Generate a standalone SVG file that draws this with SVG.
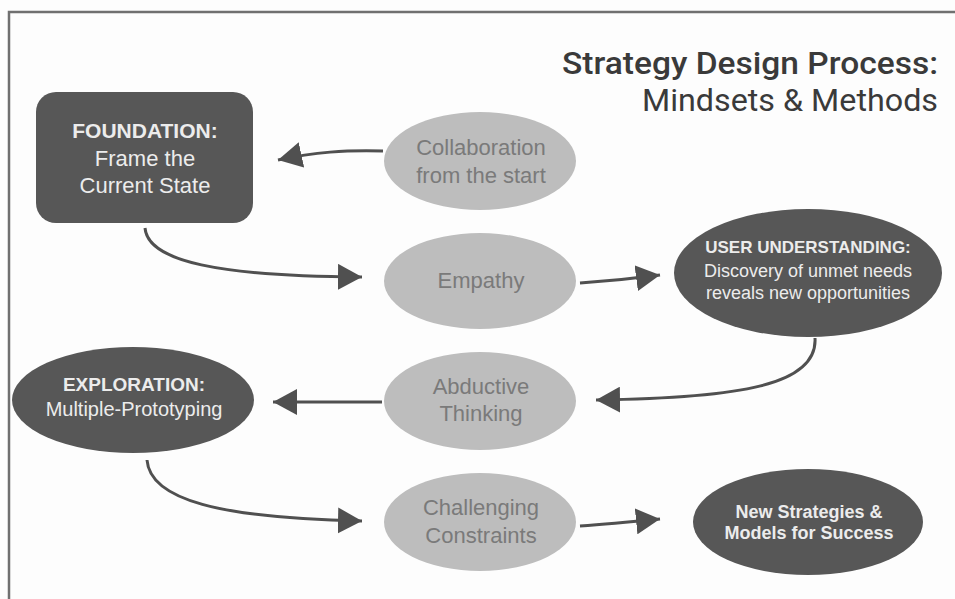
<svg xmlns="http://www.w3.org/2000/svg" width="955" height="599" viewBox="0 0 955 599">
<defs>
<style>
.bg{fill:#fdfdfd}
.frame{stroke:#707070;stroke-width:2.5;fill:none}
.dark{fill:#575757}
.light{fill:#bdbdbd}
.dt{fill:#ececec;font-family:"Liberation Sans",Arial,sans-serif;text-anchor:middle}
.lt{fill:#7a7a7a;font-family:"Liberation Sans",Arial,sans-serif;text-anchor:middle;font-size:22px}
.b{font-weight:bold}
.title{fill:#3a3a3a;font-family:Roboto,"Liberation Sans",Arial,sans-serif;text-anchor:end}
.conn{fill:none;stroke:#505050;stroke-width:3}
</style>
<marker id="ah" markerUnits="userSpaceOnUse" markerWidth="26" markerHeight="26" refX="24" refY="13" orient="auto">
<path d="M0,0 L24,13 L0,26 z" fill="#505050"/>
</marker>
</defs>
<rect class="bg" x="0" y="0" width="955" height="599"/>
<path class="frame" d="M9,599 L9,12 L955,12"/>
<g id="title">
<text class="title" x="938" y="74" font-size="31" font-weight="500" textLength="376" lengthAdjust="spacingAndGlyphs">Strategy Design Process:</text>
<text class="title" x="938" y="111" font-size="31" textLength="296" lengthAdjust="spacingAndGlyphs">Mindsets &amp; Methods</text>
</g>
<g id="connectors">
<path class="conn" marker-end="url(#ah)" d="M383,151 C345,150 315,152 278,160"/>
<path class="conn" marker-end="url(#ah)" d="M145,228 C148,262 220,276 362,277"/>
<path class="conn" marker-end="url(#ah)" d="M580,283 C610,281 630,279 660,275"/>
<path class="conn" marker-end="url(#ah)" d="M815,338 C818,385 740,398 596,400"/>
<path class="conn" marker-end="url(#ah)" d="M382,402 L273,402"/>
<path class="conn" marker-end="url(#ah)" d="M147,460 C150,500 220,518 362,521"/>
<path class="conn" marker-end="url(#ah)" d="M580,526 C610,524 630,522 660,519"/>
</g>
<g id="foundation">
<rect class="dark" x="36" y="92" width="217" height="131" rx="20"/>
<text class="dt b" x="145" y="138" font-size="21">FOUNDATION:</text>
<text class="dt" x="145" y="166" font-size="22">Frame the</text>
<text class="dt" x="145" y="193" font-size="22">Current State</text>
</g>
<g id="collaboration">
<ellipse class="light" cx="480" cy="161" rx="96" ry="49"/>
<text class="lt" x="481" y="155">Collaboration</text>
<text class="lt" x="481" y="183">from the start</text>
</g>
<g id="empathy">
<ellipse class="light" cx="480" cy="281" rx="96" ry="48"/>
<text class="lt" x="481" y="288">Empathy</text>
</g>
<g id="user-understanding">
<ellipse class="dark" cx="808" cy="273" rx="134" ry="64"/>
<text class="dt b" x="808" y="253" font-size="17">USER UNDERSTANDING:</text>
<text class="dt" x="808" y="277" font-size="18">Discovery of unmet needs</text>
<text class="dt" x="808" y="299" font-size="18">reveals new opportunities</text>
</g>
<g id="abductive">
<ellipse class="light" cx="480" cy="401" rx="96" ry="49"/>
<text class="lt" x="481" y="394">Abductive</text>
<text class="lt" x="481" y="421">Thinking</text>
</g>
<g id="exploration">
<ellipse class="dark" cx="133" cy="400" rx="121" ry="53"/>
<text class="dt b" x="134" y="391" font-size="19">EXPLORATION:</text>
<text class="dt" x="134" y="416" font-size="20">Multiple-Prototyping</text>
</g>
<g id="challenging">
<ellipse class="light" cx="480" cy="522" rx="96" ry="49"/>
<text class="lt" x="481" y="515">Challenging</text>
<text class="lt" x="481" y="543">Constraints</text>
</g>
<g id="new-strategies">
<ellipse class="dark" cx="808" cy="522" rx="115" ry="53"/>
<text class="dt b" x="809" y="518" font-size="18">New Strategies &amp;</text>
<text class="dt b" x="809" y="539" font-size="18">Models for Success</text>
</g>
</svg>
